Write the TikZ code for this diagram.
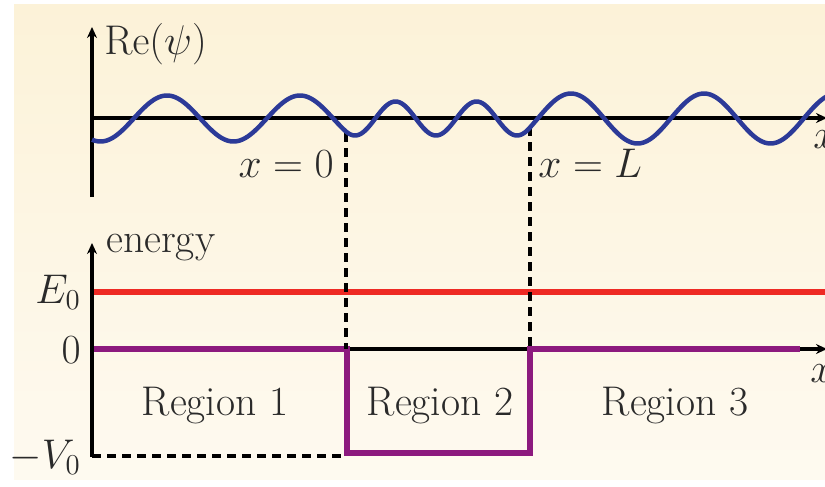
\documentclass[tikz,border=0pt]{standalone}
\usetikzlibrary{arrows.meta}
\definecolor{creamtop}{HTML}{FCF2D8}
\definecolor{creambot}{HTML}{FEFAF0}
\definecolor{ink}{HTML}{2A2A2A}
\definecolor{wavecol}{HTML}{2C3A98}
\definecolor{redcol}{HTML}{EE2A24}
\definecolor{purplecol}{HTML}{8C1A7E}
\begin{document}
\begin{tikzpicture}[x=1pt,y=-1pt,
  lbl/.style={text=ink, font=\fontsize{20.74}{25}\selectfont, inner sep=0pt, scale=2, transform shape},
  axis/.style={line width=3.5pt, draw=black, -{Stealth[length=11pt,width=10pt]}},
  guide/.style={line width=3.5pt, draw=black, dash pattern=on 9pt off 6pt},
  wave/.style={line width=4.5pt, draw=wavecol, line join=round},
  level/.style={line width=6pt, draw=redcol},
  well/.style={line width=6pt, draw=purplecol, line join=miter}]
\useasboundingbox (0,0) rectangle (825,487);
\shade[top color=creamtop, bottom color=creambot] (14,5) rectangle (825,479);

% coordinates
\coordinate (tvb) at (92,197);
\coordinate (tvt) at (92,27);
\coordinate (tho) at (92,118);
\coordinate (the) at (827,118);
\coordinate (bvb) at (92,457);
\coordinate (bvt) at (92,243);
\coordinate (bho) at (92,349);
\coordinate (bhe) at (827,349);
\coordinate (e0l) at (92,292);
\coordinate (e0r) at (825,292);
\coordinate (w1) at (92,349);
\coordinate (w2) at (347,349);
\coordinate (w3) at (347,453);
\coordinate (w4) at (530,453);
\coordinate (w5) at (530,349);
\coordinate (w6) at (800,349);
\coordinate (v0l) at (92,456);
\coordinate (v0r) at (345,456);
\coordinate (d0t) at (346,133);
\coordinate (d0b) at (346,349);
\coordinate (dlt) at (530,127);
\coordinate (dlb) at (530,349);

% energy levels and well
\draw[level] (e0l) -- (e0r);
\draw[axis] (bho) -- (bhe);
\draw[well] (w1) -- (w2) -- (w3) -- (w4) -- (w5) -- (w6);
\draw[guide] (v0l) -- (v0r);

% axes
\draw[axis] (tvb) -- (tvt);
\draw[axis] (tho) -- (the);
\draw[axis] (bvb) -- (bvt);

% guides
\draw[guide] (d0t) -- (d0b);
\draw[guide] (dlt) -- (dlb);

% wave function
\draw[wave]
  plot[domain=92:346, samples=120] (\x, {118.5-23*cos(360/133*(\x-167))})
  -- plot[domain=346:530, samples=120] (\x, {118.5+17*cos(360/81*(\x-355))})
  -- plot[domain=530:826, samples=140] (\x, {118.5-25*cos(360/133*(\x-571))});

% labels
\node[lbl, anchor=base west] (repsi) at (104,55) {$\mathrm{Re}(\psi)$};
\node[lbl, anchor=base west] (energy) at (106,252) {energy};
\node[lbl, anchor=base east] (xzero) at (334,177) {$x=0$};
\node[lbl, anchor=base west] (xL) at (538,177) {$x=L$};
\node[lbl, anchor=base east] (E0) at (81,303) {$E_0$};
\node[lbl, anchor=base east] (zero) at (81,363) {$0$};
\node[lbl, anchor=base east] (mV0) at (81,468) {$-V_0$};
\node[lbl, anchor=base] (r1) at (215,415) {Region 1};
\node[lbl, anchor=base] (r2) at (440,415) {Region 2};
\node[lbl, anchor=base] (r3) at (675,415) {Region 3};
\node[lbl, anchor=base west] (xtop) at (813,148) {$x$};
\node[lbl, anchor=base west] (xbot) at (810,382) {$x$};
\end{tikzpicture}
\end{document}
